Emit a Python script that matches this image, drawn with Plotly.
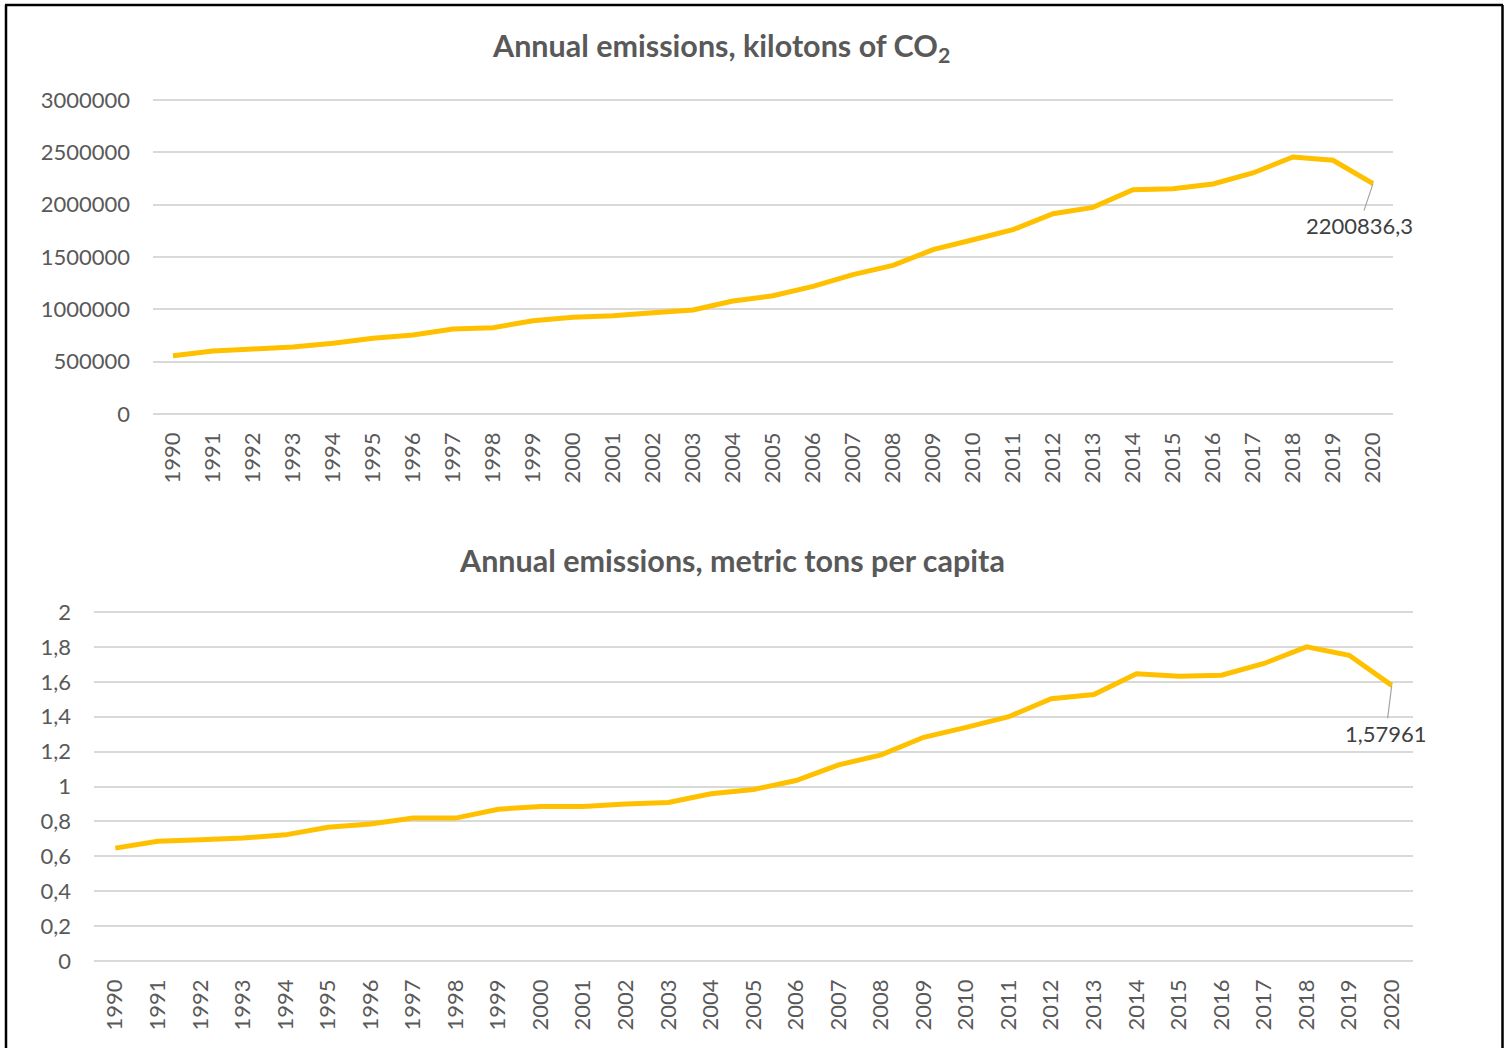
import plotly.graph_objects as go
from plotly.subplots import make_subplots

# Years shared by both panels
years = [str(y) for y in range(1990, 2021)]

# Annual CO2 emissions, kilotons
emissions_kt = [
    557000, 602000, 621000, 640000, 675000, 723000, 755000, 812000, 825000, 891000,
    924000, 939000, 968000, 994000, 1080000, 1130000, 1219000, 1331000, 1420000, 1570000,
    1665000, 1761000, 1914000, 1974000, 2143000, 2153000, 2198000, 2303000, 2456000, 2424000,
    2200836.3,
]

# Annual CO2 emissions, metric tons per capita
emissions_pc = [
    0.647, 0.686, 0.695, 0.705, 0.723, 0.766, 0.785, 0.819, 0.819, 0.870,
    0.886, 0.886, 0.899, 0.908, 0.958, 0.983, 1.034, 1.124, 1.181, 1.282,
    1.339, 1.400, 1.503, 1.527, 1.646, 1.632, 1.638, 1.705, 1.800, 1.752,
    1.57961,
]

top_title = "Annual emissions, kilotons of CO<sub>2</sub>"
bottom_title = "Annual emissions, metric tons per capita"

W, H = 1506, 1048
LINE = "#FFC000"
GRID = "#D9D9D9"
TICK = "#595959"
FONT = "Lato"
PAD = 3  # px of headroom so the end gridlines stay inside the plot area


def px(x):
    return x / W


def py(y):
    return 1 - y / H


fig = make_subplots(rows=2, cols=1)

fig.add_trace(go.Scatter(x=years, y=emissions_kt, mode="lines",
                         line=dict(color=LINE, width=5), hoverinfo="skip"),
              row=1, col=1)
fig.add_trace(go.Scatter(x=years, y=emissions_pc, mode="lines",
                         line=dict(color=LINE, width=5), hoverinfo="skip"),
              row=2, col=1)

xcommon = dict(type="category", range=[-0.5, len(years) - 0.5], tickangle=-90,
               showgrid=False, showline=False, zeroline=False, ticks="",
               ticklabelstandoff=10, automargin=False,
               tickfont=dict(family=FONT, size=22, color=TICK))
ycommon = dict(showgrid=True, gridcolor=GRID, gridwidth=1.5, zeroline=False,
               showline=False, ticks="", ticklabelstandoff=22, automargin=False,
               tickfont=dict(family=FONT, size=22, color=TICK))

# top panel: 0 at y=414px, 3 000 000 at y=100px
k1 = 3000000 / (414 - 100)
# bottom panel: 0 at y=961px, 2 at y=612px
k2 = 2 / (961 - 612)

fig.update_layout(
    xaxis=dict(domain=[px(153), px(1393)], anchor="y", **xcommon),
    yaxis=dict(domain=[py(414 + PAD), py(100 - PAD)], anchor="x",
               range=[-PAD * k1, 3000000 + PAD * k1],
               dtick=500000, tick0=0, tickformat="d", **ycommon),
    xaxis2=dict(domain=[px(94), px(1413)], anchor="y2", **xcommon),
    yaxis2=dict(domain=[py(961 + PAD), py(612 - PAD)], anchor="x2",
                range=[-PAD * k2, 2 + PAD * k2],
                dtick=0.2, tick0=0, **ycommon),
)

# Chart titles
title_font = dict(family=FONT, size=30.5, color=TICK, weight="bold")
annotations = [
    dict(text="<b>" + top_title + "</b>", xref="paper", yref="paper",
         x=px(721), y=py(48), xanchor="center", yanchor="middle",
         showarrow=False, font=title_font),
    dict(text="<b>" + bottom_title + "</b>", xref="paper", yref="paper",
         x=px(732), y=py(560), xanchor="center", yanchor="middle",
         showarrow=False, font=title_font),
]

# Data labels on the final year, with leader lines
last = len(years) - 1
label_font = dict(family=FONT, size=22, color="#404040")
annotations.append(dict(
    x=last, y=emissions_kt[-1], xref="x", yref="y",
    text=f"{emissions_kt[-1]:.1f}".replace(".", ","),
    showarrow=True, arrowhead=0, arrowwidth=1.2, arrowcolor="#A6A6A6",
    ax=-14, ay=42, standoff=0, font=label_font))
annotations.append(dict(
    x=last, y=emissions_pc[-1], xref="x2", yref="y2",
    text=f"{emissions_pc[-1]}".replace(".", ","),
    showarrow=True, arrowhead=0, arrowwidth=1.2, arrowcolor="#A6A6A6",
    ax=-6, ay=48, standoff=0, font=label_font))

fig.update_layout(
    width=W, height=H,
    margin=dict(l=0, r=0, t=0, b=0, autoexpand=False),
    paper_bgcolor="white", plot_bgcolor="white",
    separators=",.",
    showlegend=False,
    annotations=annotations,
    shapes=[
        dict(type="line", xref="paper", yref="paper", x0=px(6), x1=px(6),
             y0=-0.05, y1=py(5), line=dict(color="black", width=2.5)),
        dict(type="line", xref="paper", yref="paper", x0=px(5), x1=px(1503),
             y0=py(5), y1=py(5), line=dict(color="black", width=2.5)),
        dict(type="line", xref="paper", yref="paper", x0=px(1502.5), x1=px(1502.5),
             y0=-0.05, y1=py(5), line=dict(color="black", width=2.5)),
    ],
)

fig.write_html("out.html")
